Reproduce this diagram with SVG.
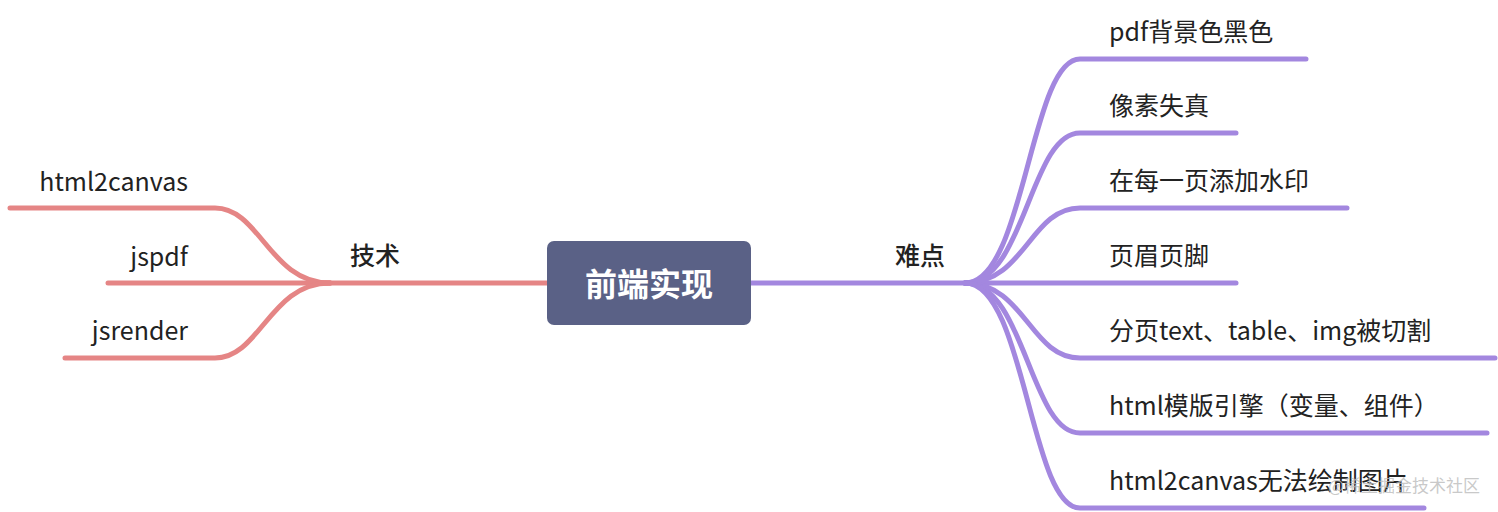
<svg xmlns="http://www.w3.org/2000/svg" width="1498" height="512" viewBox="0 0 1498 512">
<style>
.t{font-family:"Noto Sans CJK SC","Noto Sans",sans-serif;font-size:25px;fill:#222}
.l{fill:none;stroke:#e58585;stroke-width:5;stroke-linecap:round}
.r{fill:none;stroke:#a387df;stroke-width:5;stroke-linecap:round}
</style>
<rect width="1498" height="512" fill="#fff"/>
<g id="connectors">
<path class="l" d="M547 283H310"/>
<path class="l" d="M330 283C270 283 260 208 215 208H10"/>
<path class="l" d="M330 283H108"/>
<path class="l" d="M330 283C270 283 260 358 215 358H65"/>
<path class="r" d="M751 283H975"/>
<path class="r" d="M965 283C1025 283 1030 59 1080 59H1306"/>
<path class="r" d="M965 283C1025 283 1030 133 1080 133H1236"/>
<path class="r" d="M965 283C1025 283 1030 208 1080 208H1347"/>
<path class="r" d="M965 283H1236"/>
<path class="r" d="M965 283C1025 283 1030 358 1080 358H1495"/>
<path class="r" d="M965 283C1025 283 1030 433 1080 433H1487"/>
<path class="r" d="M965 283C1025 283 1030 508 1080 508H1424"/>
</g>
<g id="root"><rect x="547" y="241" width="204" height="84" rx="7" fill="#5a6186"/><text x="649" y="296" text-anchor="middle" font-family="Noto Sans CJK SC,sans-serif" font-size="32" font-weight="bold" fill="#fff">前端实现</text></g>
<g id="tech"><text class="t" x="375" y="265" text-anchor="middle" font-weight="500">技术</text></g>
<g id="n-h2c"><text class="t" x="188" y="191" text-anchor="end">html2canvas</text></g>
<g id="n-jspdf"><text class="t" x="188" y="266" text-anchor="end">jspdf</text></g>
<g id="n-jsrender"><text class="t" x="188" y="340" text-anchor="end">jsrender</text></g>
<g id="diff"><text class="t" x="920" y="265" text-anchor="middle" font-weight="500">难点</text></g>
<g id="d1"><text class="t" x="1109" y="41">pdf背景色黑色</text></g>
<g id="d2"><text class="t" x="1109" y="115">像素失真</text></g>
<g id="d3"><text class="t" x="1109" y="190">在每一页添加水印</text></g>
<g id="d4"><text class="t" x="1109" y="265">页眉页脚</text></g>
<g id="d5"><text class="t" x="1109" y="340">分页text、table、img被切割</text></g>
<g id="d6"><text class="t" x="1109" y="415">html模版引擎（变量、组件）</text></g>
<g id="d7"><text class="t" x="1109" y="490">html2canvas无法绘制图片</text></g>
<text x="1480" y="492" text-anchor="end" font-family="Noto Sans CJK SC,sans-serif" font-size="17" fill="#bbb" fill-opacity="0.8">@稀土掘金技术社区</text>
</svg>
